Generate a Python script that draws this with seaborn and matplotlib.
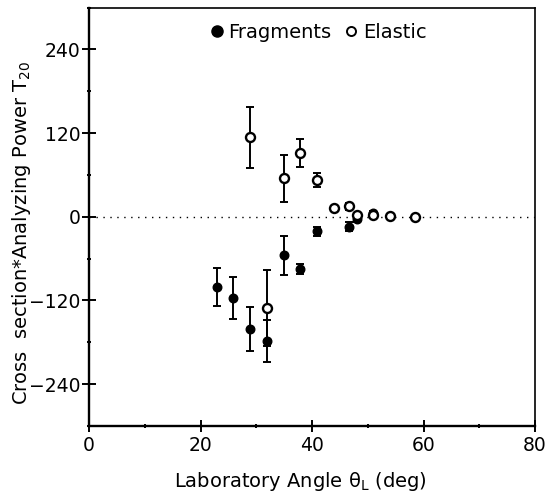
import matplotlib
matplotlib.use("Agg")
import matplotlib.pyplot as plt
import seaborn as sns
import pandas as pd
from matplotlib.lines import Line2D
from matplotlib.ticker import MultipleLocator

# Data
frag_angle = [22.9, 25.9, 28.9, 31.9, 34.9, 37.9, 40.9, 46.6, 48.1, 50.9]
frag_value = [-101, -117, -161, -178, -55, -75, -21, -14, -3, 5]
frag_err = [27, 30, 32, 30, 28, 7, 7, 6, 4, 3]

el_angle = [28.9, 31.9, 34.9, 37.9, 40.9, 43.9, 46.6, 48.1, 50.9, 54.0, 58.5]
el_value = [114, -131, 55, 92, 53, 12, 15, 3, 2, 1, 0]
el_err = [44, 55, 34, 20, 10, 3, 5, 3, 3, 2, 1]

x_ticks = [0, 20, 40, 60, 80]
y_ticks = [-240, -120, 0, 120, 240]

sns.set_style("white")
plt.rcParams['font.family'] = ['DejaVu Sans']
plt.rcParams['mathtext.fontset'] = 'dejavusans'
for key in ['text.color', 'axes.labelcolor', 'xtick.color', 'ytick.color']:
    plt.rcParams[key] = 'black'

df = pd.concat([
    pd.DataFrame({"angle": frag_angle, "value": frag_value, "err": frag_err, "set": "Fragments"}),
    pd.DataFrame({"angle": el_angle, "value": el_value, "err": el_err, "set": "Elastic"}),
], ignore_index=True)

fig = plt.figure(figsize=(5.47, 4.97), dpi=100)
ax = fig.add_axes([89/547, 1-426/497, (535-89)/547, (426-7.5)/497])

ax.axhline(0, color="black", lw=1.0, ls=(0, (1, 4)), zorder=1)

for name, sub in df.groupby("set"):
    ax.errorbar(sub["angle"], sub["value"], yerr=sub["err"], fmt="none",
                ecolor="black", elinewidth=1.4, capsize=3.2, capthick=1.4, zorder=2)

sns.scatterplot(data=df[df["set"] == "Fragments"], x="angle", y="value", ax=ax,
                color="black", edgecolor="black", s=38, marker="o", linewidth=1.0,
                zorder=3, legend=False)
sns.scatterplot(data=df[df["set"] == "Elastic"], x="angle", y="value", ax=ax,
                facecolor="white", edgecolor="black", s=42, marker="o", linewidth=1.7,
                zorder=4, legend=False)

ax.set_xlim(0, 80)
ax.set_ylim(-300, 300)
ax.set_xticks(x_ticks)
ax.set_yticks(y_ticks)
ax.xaxis.set_minor_locator(MultipleLocator(10))
ax.yaxis.set_minor_locator(MultipleLocator(60))
ax.tick_params(axis="x", which="major", direction="inout", length=8, width=1.4,
               labelsize=13.5, pad=3, bottom=True, colors="black")
ax.tick_params(axis="y", which="major", direction="inout", length=10, width=1.4,
               labelsize=13.5, pad=1, left=True, colors="black")
ax.tick_params(which="minor", direction="inout", length=3.5, width=1.4, bottom=True,
               left=True, colors="black")

for side in ["left", "bottom"]:
    ax.spines[side].set_linewidth(1.7)
for side in ["top", "right"]:
    ax.spines[side].set_linewidth(1.2)
for sp in ax.spines.values():
    sp.set_color("black")

ax.set_xlabel(r"Laboratory Angle θ$_{\mathrm{L}}$ (deg)", fontsize=14, color="black")
ax.set_ylabel(r"Cross  section*Analyzing Power T$_{20}$", fontsize=14, color="black")
ax.xaxis.set_label_coords(0.475, -0.105)
ax.yaxis.set_label_coords(-0.126, 0.46)

handles = [
    Line2D([], [], marker="o", ls="none", color="black", markersize=8),
    Line2D([], [], marker="o", ls="none", markerfacecolor="white",
           markeredgecolor="black", markersize=6.5, markeredgewidth=1.4),
]
leg = ax.legend(handles, ["Fragments", "Elastic"], loc="upper center", ncol=2,
                frameon=False, fontsize=14, handletextpad=0.3, columnspacing=0.7,
                bbox_to_anchor=(0.515, 0.995), handlelength=0.6, borderaxespad=0.3)
for t in leg.get_texts():
    t.set_color("black")

fig.savefig("out.png", dpi=100)
